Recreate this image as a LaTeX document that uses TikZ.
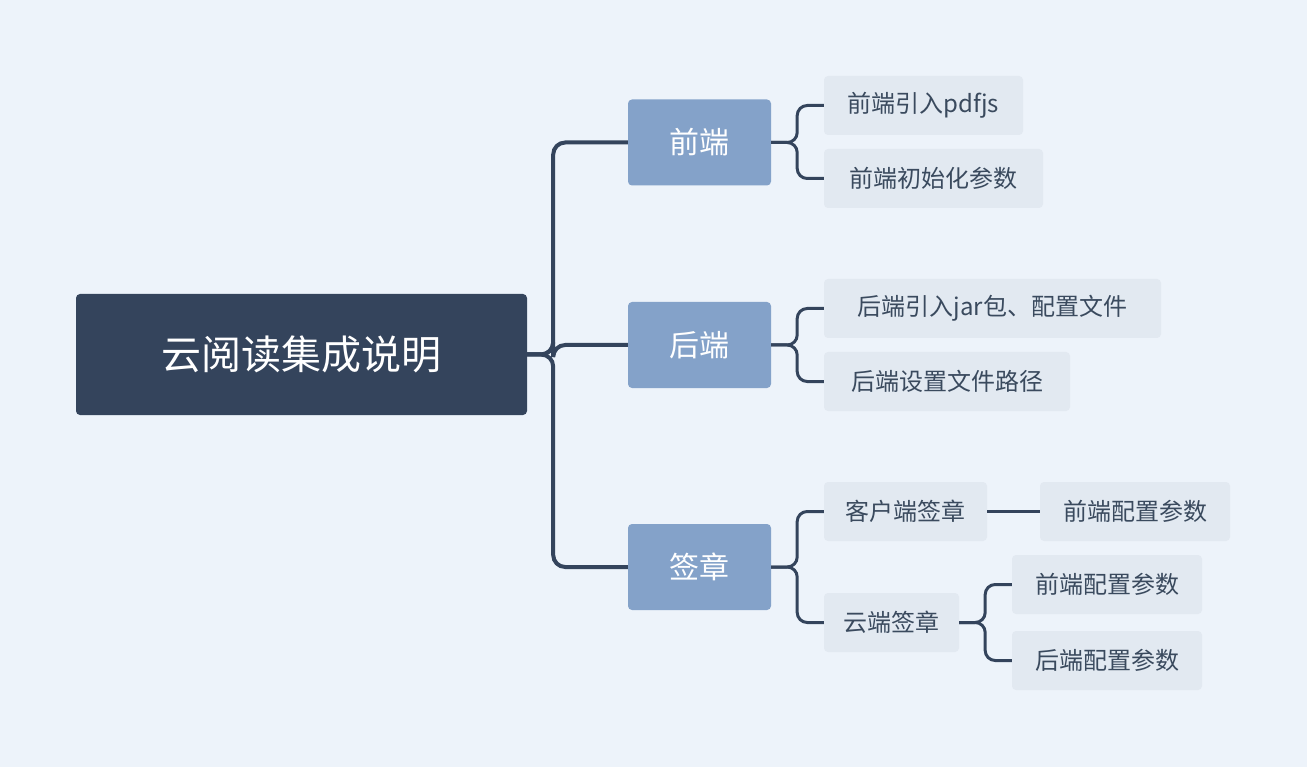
\documentclass[tikz,border=0pt]{standalone}
\usepackage{fontspec}
\setmainfont{Noto Sans CJK SC}
\definecolor{bg}{HTML}{EDF3FA}
\definecolor{dark}{HTML}{34445C}
\definecolor{mid}{HTML}{84A2C9}
\definecolor{leafbg}{HTML}{E2E9F1}
\definecolor{leaftx}{HTML}{3A4A5E}
\begin{document}
\begin{tikzpicture}[x=1pt,y=-1pt,
  box/.style={rectangle,rounded corners=4pt,inner sep=0pt,anchor=center},
  root/.style={box,fill=dark,text=white,font=\fontsize{40}{48}\selectfont,minimum width=451pt,minimum height=121pt},
  lvl/.style={box,fill=mid,text=white,font=\fontsize{30}{36}\selectfont,minimum width=143pt,minimum height=86pt},
  leaf/.style={box,fill=leafbg,text=leaftx,font=\fontsize{24}{30}\selectfont,minimum height=59pt},
  conn/.style={draw=dark,line width=4pt,rounded corners=12pt},
  sub/.style={draw=dark,line width=3pt,rounded corners=10pt}]
\fill[bg] (0,0) rectangle (1307,767);
\node[root] (r) at (301.5,354.5) {云阅读集成说明};
\node[lvl] (a) at (699.5,142.5) {前端};
\node[lvl] (b) at (699.5,345) {后端};
\node[lvl] (c) at (699.5,567) {签章};
\node[leaf,minimum width=199pt] (a1) at (923.5,105.5) {前端引入pdfjs};
\node[leaf,minimum width=219pt] (a2) at (933.5,178.5) {前端初始化参数};
\node[leaf,minimum width=337pt] (b1) at (992.5,308.5) {后端引入jar包、配置文件};
\node[leaf,minimum width=246pt] (b2) at (947,381.5) {后端设置文件路径};
\node[leaf,minimum width=163pt] (c1) at (905.5,511.5) {客户端签章};
\node[leaf,minimum width=190pt] (c11) at (1135,511.5) {前端配置参数};
\node[leaf,minimum width=135pt] (c2) at (891.5,622.5) {云端签章};
\node[leaf,minimum width=190pt] (c21) at (1107,584.5) {前端配置参数};
\node[leaf,minimum width=190pt] (c22) at (1107,660.5) {后端配置参数};
\foreach \t in {a,b,c} \draw[conn] (r.east) -- ++(26,0) |- (\t.west);
\foreach \t in {a1,a2} \draw[sub] (a.east) -- ++(26,0) |- (\t.west);
\foreach \t in {b1,b2} \draw[sub] (b.east) -- ++(26,0) |- (\t.west);
\foreach \t in {c1,c2} \draw[sub] (c.east) -- ++(26,0) |- (\t.west);
\draw[sub] (c1.east) -- (c11.west);
\foreach \t in {c21,c22} \draw[sub] (c2.east) -- ++(26,0) |- (\t.west);
\end{tikzpicture}
\end{document}
